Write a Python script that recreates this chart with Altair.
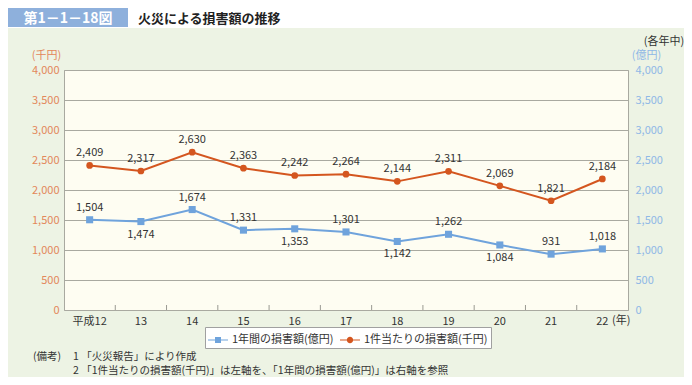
import altair as alt
import pandas as pd

# ---- data ----
years = ["平成12", "13", "14", "15", "16", "17", "18", "19", "20", "21", "22"]
annual_loss = [1504, 1474, 1674, 1331, 1353, 1301, 1142, 1262, 1084, 931, 1018]      # 億円 (right axis)
per_fire_loss = [2409, 2317, 2630, 2363, 2242, 2264, 2144, 2311, 2069, 1821, 2184]   # 千円 (left axis)
annual_label_side = ["above", "below", "above", "above", "below", "above",
                     "below", "above", "below", "above", "above"]
y_ticks = [0, 500, 1000, 1500, 2000, 2500, 3000, 3500, 4000]

S_ANNUAL = "1年間の損害額(億円)"
S_PER = "1件当たりの損害額(千円)"

# ---- style ----
W, H = 564, 240
FONT = "Noto Sans CJK JP"
ORANGE = "#d4561f"
BLUE = "#6fa3dc"
ORANGE_LBL = "#e3875a"
BLUE_LBL = "#8fb8e6"
GRID = "#a9a9a0"
TXT = "#333333"
PANEL = "#edf3e4"
PLOT_BG = "#fefdf2"

df_per = pd.DataFrame({"year": years, "value": per_fire_loss})
df_ann = pd.DataFrame({"year": years, "value": annual_loss, "side": annual_label_side})
df_series = pd.DataFrame({"series": [S_ANNUAL, S_PER]})
df_edges = pd.DataFrame({"year": years[1:]})
one = alt.Data(values=[{"a": 1}])

xscale = alt.Scale(type="band", domain=years, paddingInner=0, paddingOuter=0)
x_axis = alt.Axis(title=None, ticks=False, domain=False, labelAngle=0, labelPadding=5,
                  labelColor=TXT, labelFontSize=11, labelFont=FONT, grid=False)


def xc(band=0.5):
    # same axis definition everywhere so the shared x axis merges cleanly
    return alt.X("year:N", scale=xscale, bandPosition=band, axis=x_axis)


def yc(axis=None):
    return alt.Y("value:Q", scale=alt.Scale(domain=[0, 4000], nice=False, zero=True), axis=axis)


left_axis = alt.Axis(orient="left", values=y_ticks, format=",d", labelColor=ORANGE_LBL,
                     labelFontSize=11, labelFont=FONT, labelPadding=5,
                     grid=True, gridColor=GRID, gridWidth=1, ticks=False, domain=False,
                     title="(千円)", titleAngle=0, titleX=-18, titleY=-12,
                     titleAlign="center", titleBaseline="alphabetic",
                     titleColor=ORANGE_LBL, titleFontWeight="normal",
                     titleFontSize=11, titleFont=FONT)
right_axis = alt.Axis(orient="right", values=y_ticks, format=",d", labelColor=BLUE_LBL,
                      labelFontSize=11, labelFont=FONT, labelPadding=7,
                      grid=False, ticks=False, domain=False,
                      title="(億円)", titleAngle=0, titleX=18, titleY=-12,
                      titleAlign="center", titleBaseline="alphabetic",
                      titleColor=BLUE_LBL, titleFontWeight="normal",
                      titleFontSize=11, titleFont=FONT)

# ---- orange series (left axis) ----
o_base = alt.Chart(df_per)
o_line = o_base.mark_line(color=ORANGE, strokeWidth=2).encode(x=xc(), y=yc(left_axis))
o_pts = o_base.mark_point(color=ORANGE, filled=True, opacity=1, size=45, shape="circle").encode(
    x=xc(), y=yc())
o_txt = o_base.mark_text(dy=-12, font=FONT, fontSize=11, color=TXT).encode(
    x=xc(), y=yc(), text=alt.Text("value:Q", format=","))

# ---- blue series (right axis) ----
b_base = alt.Chart(df_ann)
b_line = b_base.mark_line(color=BLUE, strokeWidth=2).encode(x=xc(), y=yc(right_axis))
b_pts = b_base.mark_point(color=BLUE, filled=True, opacity=1, size=50, shape="square").encode(
    x=xc(), y=yc())
b_txt_up = b_base.transform_filter(alt.datum.side == "above").mark_text(
    dy=-12, font=FONT, fontSize=11, color=TXT).encode(
    x=xc(), y=yc(), text=alt.Text("value:Q", format=","))
b_txt_dn = b_base.transform_filter(alt.datum.side == "below").mark_text(
    dy=13, font=FONT, fontSize=11, color=TXT).encode(
    x=xc(), y=yc(), text=alt.Text("value:Q", format=","))

# ---- band-edge ticks (pointing up into the plot) ----
ticks = alt.Chart(df_edges).mark_rule(color="#9a9a92", strokeWidth=1, opacity=1).encode(
    x=xc(band=0), y=alt.value(H - 5), y2=alt.value(H))

# ---- legend (custom line+marker symbols) ----
sq_path = "M-1,-0.05L1,-0.05L1,0.05L-1,0.05Z M-0.3,-0.3L0.3,-0.3L0.3,0.3L-0.3,0.3Z"
ci_path = "M-1,-0.05L1,-0.05L1,0.05L-1,0.05Z M-0.32,0A0.32,0.32 0 1,1 0.32,0A0.32,0.32 0 1,1 -0.32,0Z"
leg = alt.Legend(title=None, orient="none", legendX=141, legendY=257, direction="horizontal",
                 symbolSize=400, symbolStrokeWidth=0, labelFont=FONT, labelFontSize=11,
                 labelColor=TXT, strokeColor="#a0a0a0", fillColor="white", padding=3,
                 columnPadding=6, labelOffset=4)
legend_layer = alt.Chart(df_series).mark_point(filled=True, size=0, opacity=1).encode(
    x=alt.value(0), y=alt.value(0),
    color=alt.Color("series:N", scale=alt.Scale(domain=[S_ANNUAL, S_PER], range=[BLUE, ORANGE]), legend=leg),
    shape=alt.Shape("series:N", scale=alt.Scale(domain=[S_ANNUAL, S_PER], range=[sq_path, ci_path]), legend=leg),
)

# ---- decorations / texts ----
white_top = alt.Chart(one).mark_rect(color="white").encode(
    x=alt.value(-56), x2=alt.value(W + 60), y=alt.value(-62), y2=alt.value(-42))
title_box = alt.Chart(one).mark_rect(color="#8eb0dc").encode(
    x=alt.value(-56), x2=alt.value(64), y=alt.value(-62), y2=alt.value(-43))
title_num = alt.Chart(one).mark_text(text="第1－1－18図", font=FONT, fontSize=14, fontWeight="bold",
                                     color="white", align="center", baseline="middle").encode(
    x=alt.value(4), y=alt.value(-51))
title_txt = alt.Chart(one).mark_text(text="火災による損害額の推移", font=FONT, fontSize=13, fontWeight="bold",
                                     color="#222222", align="left", baseline="middle").encode(
    x=alt.value(74), y=alt.value(-51))
kakunen = alt.Chart(one).mark_text(text="(各年中)", font=FONT, fontSize=11, color=TXT,
                                   align="center", baseline="middle").encode(
    x=alt.value(600), y=alt.value(-28))
nen = alt.Chart(one).mark_text(text="(年)", font=FONT, fontSize=11, color=TXT,
                               align="left", baseline="top").encode(
    x=alt.value(W - 16), y=alt.value(H + 5))
note0 = alt.Chart(one).mark_text(text="(備考)", font=FONT, fontSize=10.5, color=TXT,
                                 align="left", baseline="middle").encode(
    x=alt.value(-31), y=alt.value(287))
note1 = alt.Chart(one).mark_text(text="1 「火災報告」により作成", font=FONT, fontSize=10.5, color=TXT,
                                 align="left", baseline="middle").encode(
    x=alt.value(9), y=alt.value(287))
note2 = alt.Chart(one).mark_text(text="2 「1件当たりの損害額(千円)」は左軸を、「1年間の損害額(億円)」は右軸を参照",
                                 font=FONT, fontSize=10.5, color=TXT,
                                 align="left", baseline="middle").encode(
    x=alt.value(9), y=alt.value(301))

chart = alt.layer(
    o_line, b_line, white_top, title_box, title_num, title_txt, kakunen, nen, note0, note1, note2,
    ticks, o_pts, o_txt, b_pts, b_txt_up, b_txt_dn, legend_layer
).resolve_scale(y="independent").properties(
    width=W, height=H,
    autosize=alt.AutoSizeParams(type="none"),
    padding={"left": 56, "top": 62, "right": 56, "bottom": 67},
    background=PANEL,
).configure_view(fill=PLOT_BG, stroke=GRID, strokeWidth=1)

chart.save("out.html", embed_options={"renderer": "svg", "actions": False})
